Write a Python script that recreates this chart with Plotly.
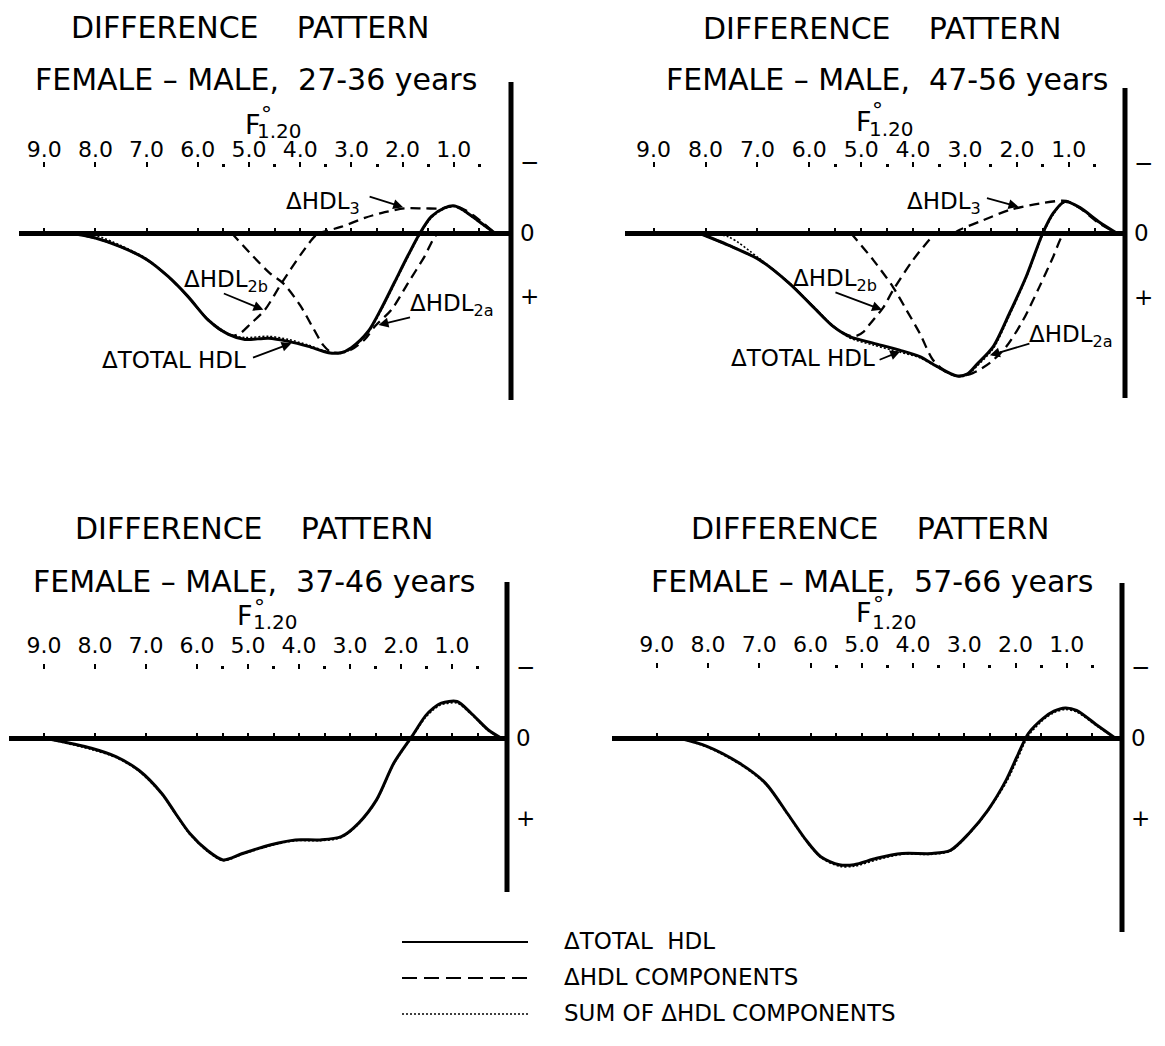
import plotly.graph_objects as go

# ------------------------------------------------------------------ data
# x = F°1.20 value, y = difference (axis drawn with "-" up, "+" down)
# 27-36 years
F_TOT_27 = [8.5, 8.0, 7.5, 7.0, 6.58, 6.19, 5.80, 5.40, 5.08, 4.62, 4.23, 3.84, 3.45, 3.2, 3.0,
            2.67, 2.41, 2.15, 1.89, 1.66, 1.44, 1.18, 0.98, 0.79, 0.6, 0.4, 0.2]
TOT_27 = [0, 0.08, 0.22, 0.42, 0.69, 1.01, 1.38, 1.61, 1.69, 1.67, 1.72, 1.80, 1.90, 1.90, 1.82,
          1.56, 1.19, 0.77, 0.35, 0.0, -0.26, -0.40, -0.43, -0.35, -0.24, -0.12, 0.0]
SUM_27 = [0, 0.04, 0.20, 0.41, 0.69, 1.01, 1.37, 1.60, 1.66, 1.64, 1.69, 1.78, 1.89, 1.91, 1.84,
          1.58, 1.21, 0.79, 0.37, 0.02, -0.24, -0.39, -0.42, -0.34, -0.23, -0.11, 0.0]
F_2B_27 = [8.5, 8.0, 7.5, 7.0, 6.58, 6.19, 5.80, 5.5, 5.3, 5.15, 4.98, 4.69, 4.36, 3.97, 3.71, 3.6]
HDL2B_27 = [0, 0.08, 0.22, 0.42, 0.69, 1.01, 1.38, 1.57, 1.63, 1.58, 1.45, 1.22, 0.79, 0.32, 0.05, 0.0]
F_2A_27 = [5.34, 4.92, 4.59, 4.33, 4.0, 3.74, 3.55, 3.4, 3.2, 3.0, 2.74, 2.54, 2.22, 1.89, 1.57, 1.34, 1.2]
HDL2A_27 = [0, 0.37, 0.64, 0.80, 1.15, 1.52, 1.78, 1.89, 1.90, 1.85, 1.69, 1.48, 1.22, 0.79, 0.37, 0.03, 0]
F_3_27 = [3.65, 3.19, 2.74, 2.35, 1.96, 1.57, 1.24, 1.0, 0.79, 0.6, 0.4, 0.2]
HDL3_27 = [0, -0.10, -0.24, -0.33, -0.39, -0.39, -0.39, -0.43, -0.37, -0.27, -0.14, 0]

# 47-56 years
F_TOT_47 = [8.13, 7.56, 6.96, 6.38, 5.93, 5.54, 5.22, 4.77, 4.26, 3.87, 3.55, 3.17, 2.95, 2.78,
            2.46, 2.14, 1.82, 1.50, 1.30, 1.08, 0.79, 0.43, 0.08]
TOT_47 = [0, 0.19, 0.42, 0.79, 1.15, 1.46, 1.62, 1.72, 1.83, 1.93, 2.08, 2.23, 2.20, 2.06,
          1.78, 1.25, 0.68, 0.0, -0.31, -0.49, -0.40, -0.18, 0]
SUM_47 = [0, 0.06, 0.40, 0.78, 1.14, 1.45, 1.64, 1.75, 1.86, 1.95, 2.09, 2.24, 2.22, 2.09,
          1.81, 1.28, 0.70, 0.02, -0.29, -0.48, -0.39, -0.17, 0]
F_2B_47 = [8.13, 7.56, 6.96, 6.38, 5.93, 5.54, 5.25, 5.1, 4.95, 4.84, 4.58, 4.39, 4.0, 3.58]
HDL2B_47 = [0, 0.19, 0.42, 0.79, 1.15, 1.46, 1.60, 1.61, 1.54, 1.43, 1.17, 0.90, 0.42, 0.0]
F_2A_47 = [5.2, 4.77, 4.39, 4.13, 3.87, 3.62, 3.35, 3.1, 2.85, 2.52, 2.20, 1.88, 1.56, 1.30, 1.11, 1.0]
HDL2A_47 = [0, 0.42, 0.84, 1.20, 1.57, 1.98, 2.18, 2.24, 2.19, 2.03, 1.77, 1.36, 0.83, 0.37, 0.03, 0]
F_3_47 = [3.2, 3.10, 2.65, 2.14, 1.56, 1.05, 0.79, 0.43, 0.08]
HDL3_47 = [0, -0.05, -0.20, -0.36, -0.46, -0.50, -0.39, -0.16, 0]

# 37-46 years
F_TOT_37 = [8.97, 8.07, 7.59, 7.14, 6.69, 6.42, 6.14, 5.80, 5.49, 5.11, 4.55, 4.07, 3.59, 3.17,
            2.83, 2.48, 2.14, 1.79, 1.52, 1.36, 1.21, 0.90, 0.62, 0.28, 0.03]
TOT_37 = [0, 0.125, 0.23, 0.40, 0.69, 0.94, 1.19, 1.40, 1.52, 1.44, 1.33, 1.27, 1.27, 1.23,
          1.06, 0.77, 0.31, -0.02, -0.28, -0.38, -0.44, -0.46, -0.31, -0.10, 0]
SUM_37 = [0, 0.14, 0.24, 0.41, 0.70, 0.95, 1.20, 1.41, 1.53, 1.45, 1.34, 1.28, 1.28, 1.24,
          1.07, 0.78, 0.32, -0.01, -0.26, -0.36, -0.42, -0.44, -0.30, -0.09, 0]

# 57-66 years
F_TOT_57 = [8.55, 8.02, 7.39, 6.88, 6.45, 6.09, 5.80, 5.44, 5.15, 4.71, 4.21, 3.63, 3.27, 2.91,
            2.54, 2.18, 1.97, 1.75, 1.46, 1.25, 1.03, 0.81, 0.38, 0.05]
TOT_57 = [0, 0.10, 0.31, 0.56, 0.94, 1.27, 1.48, 1.58, 1.58, 1.50, 1.44, 1.44, 1.40, 1.19,
          0.90, 0.52, 0.23, -0.06, -0.25, -0.34, -0.38, -0.35, -0.15, 0]
SUM_57 = [0, 0.11, 0.32, 0.57, 0.95, 1.28, 1.49, 1.60, 1.60, 1.52, 1.45, 1.45, 1.41, 1.20,
          0.91, 0.55, 0.27, -0.03, -0.23, -0.32, -0.36, -0.33, -0.14, 0]

AGE_GROUPS = ["27-36", "47-56", "37-46", "57-66"]
TOP_TICKS = [9, 8, 7, 6, 5, 4, 3, 2, 1]
TOP_LABELS = ["9.0", "8.0", "7.0", "6.0", "5.0", "4.0", "3.0", "2.0", "1.0"]
HALF_TICKS = [5.5, 4.5, 3.5, 2.5, 1.5, 0.5]
BASE_TICKS = [9, 8, 7, 6, 5.5, 5, 4.5, 4, 3.5, 3, 2.5, 2, 1.5, 1, 0.5]
Y_LABELS = ["\u2212", "0", "+"]

# ------------------------------------------------------------------ layout helpers
W, H = 1165, 1046
FONT = "DejaVu Sans"
BLACK = "black"

# pixel calibration of each panel (positions/styling only)
PANELS = [
    dict(age=AGE_GROUPS[0], f0=505, ppu=51.2, vline=511, left=19, base=233, ppv=63, top=82, bot=400,
         minus_px=162, lab_y=167, standoff=-4,
         title=(250, 28), sub=(256, 79), F=(253, 124), deg=(266, 114), f120=(279, 131)),
    dict(age=AGE_GROUPS[1], f0=1120.7, ppu=51.9, vline=1125, left=625, base=233, ppv=64, top=88, bot=398,
         minus_px=163, lab_y=167, standoff=-4,
         title=(882, 29), sub=(887, 80), F=(864, 122), deg=(877, 111), f120=(891, 129)),
    dict(age=AGE_GROUPS[2], f0=503, ppu=51.0, vline=507, left=9, base=738.3, ppv=80, top=582, bot=892,
         minus_px=667, lab_y=669, standoff=2,
         title=(254, 528), sub=(254, 581), F=(245, 615), deg=(259, 607), f120=(275, 622)),
    dict(age=AGE_GROUPS[3], f0=1118, ppu=51.25, vline=1122, left=612, base=738.3, ppv=80, top=583, bot=932,
         minus_px=667, lab_y=668, standoff=2,
         title=(870, 528), sub=(872, 581), F=(864, 612), deg=(878, 604), f120=(894, 622)),
]

SERIES = [
    dict(total=(F_TOT_27, TOT_27), sum=(F_TOT_27, SUM_27),
         comps=[(F_2B_27, HDL2B_27), (F_2A_27, HDL2A_27), (F_3_27, HDL3_27)]),
    dict(total=(F_TOT_47, TOT_47), sum=(F_TOT_47, SUM_47),
         comps=[(F_2B_47, HDL2B_47), (F_2A_47, HDL2A_47), (F_3_47, HDL3_47)]),
    dict(total=(F_TOT_37, TOT_37), sum=(F_TOT_37, SUM_37), comps=[]),
    dict(total=(F_TOT_57, TOT_57), sum=(F_TOT_57, SUM_57), comps=[]),
]

# curve labels: (text, text centre px, arrow head (F, y), arrow tail offset px)
CURVE_LABELS = {
    0: [("\u0394HDL<sub>3</sub>", (323, 203), (1.99, -0.41), (-35, -11)),
        ("\u0394HDL<sub>2b</sub>", (226, 281), (4.72, 1.22), (-41, -17)),
        ("\u0394HDL<sub>2a</sub>", (452, 305), (2.47, 1.46), (33, -8)),
        ("\u0394TOTAL HDL", (174, 360), (4.17, 1.75), (-40, 15))],
    1: [("\u0394HDL<sub>3</sub>", (944, 203), (1.97, -0.41), (-33, -9)),
        ("\u0394HDL<sub>2b</sub>", (835, 280), (4.6, 1.20), (-48, -18)),
        ("\u0394HDL<sub>2a</sub>", (1071, 336), (2.52, 1.91), (41, -12)),
        ("\u0394TOTAL HDL", (803, 358), (4.25, 1.85), (-22, 9))],
}


def px_x(px):
    return px / W


def px_y(py):
    return 1 - py / H


fig = go.Figure()
layout = dict(width=W, height=H, margin=dict(l=0, r=0, t=0, b=0, autoexpand=False),
              paper_bgcolor="white", plot_bgcolor="rgba(0,0,0,0)",
              showlegend=False, font=dict(family=FONT, color=BLACK))
annotations = []
shapes = []

for i, (p, s) in enumerate(zip(PANELS, SERIES), start=1):
    xa = "x" if i == 1 else f"x{i}"
    ya = "y" if i == 1 else f"y{i}"
    xl = f"x{i + 4}"
    xrange = [(p["f0"] - p["left"]) / p["ppu"], (p["f0"] - p["vline"]) / p["ppu"]]
    yrange = [(p["bot"] - p["base"]) / p["ppv"], (p["top"] - p["base"]) / p["ppv"]]
    xdom = [px_x(p["left"]), px_x(p["vline"])]
    ydom = [px_y(p["bot"]), px_y(p["top"])]
    minus_v = (p["minus_px"] - p["base"]) / p["ppv"]

    # components (dashed)
    for fx, fy in s["comps"]:
        fig.add_trace(go.Scatter(x=fx, y=fy, xaxis=xa, yaxis=ya, mode="lines",
                                 line=dict(color=BLACK, width=2.3, dash="10px,6px",
                                           shape="spline", smoothing=0.8),
                                 hoverinfo="skip"))
    # total (solid)
    fig.add_trace(go.Scatter(x=s["total"][0], y=s["total"][1], xaxis=xa, yaxis=ya, mode="lines",
                             line=dict(color=BLACK, width=3, shape="spline", smoothing=0.8),
                             hoverinfo="skip"))
    # sum of components (dotted)
    fig.add_trace(go.Scatter(x=s["sum"][0], y=s["sum"][1], xaxis=xa, yaxis=ya, mode="lines",
                             line=dict(color=BLACK, width=1.6, dash="2px,2px",
                                       shape="spline", smoothing=0.8),
                             hoverinfo="skip"))
    # empty trace so that the label axis is drawn
    fig.add_trace(go.Scatter(x=[None], y=[None], xaxis=xl, yaxis=ya, mode="lines",
                             hoverinfo="skip"))

    layout["xaxis" if i == 1 else f"xaxis{i}"] = dict(
        domain=xdom, range=xrange, autorange=False, anchor="free", position=px_y(p["base"]),
        side="top", showline=False, showgrid=False, zeroline=False,
        ticks="outside", ticklen=5, tickwidth=2, tickcolor=BLACK,
        tickmode="array", tickvals=BASE_TICKS, showticklabels=False, fixedrange=True)
    layout[f"xaxis{i + 4}"] = dict(
        domain=xdom, range=xrange, autorange=False, overlaying=xa, anchor="free",
        position=px_y(p["lab_y"]), side="top", showline=False, showgrid=False, zeroline=False,
        ticks="outside", ticklen=5, tickwidth=2, tickcolor=BLACK,
        tickmode="array", tickvals=TOP_TICKS, ticktext=TOP_LABELS,
        tickfont=dict(family=FONT, size=22, color=BLACK), ticklabelstandoff=p["standoff"],
        minor=dict(tickmode="array", tickvals=HALF_TICKS, ticks="outside", ticklen=3,
                   tickwidth=2.5, tickcolor=BLACK, showgrid=False),
        fixedrange=True)
    layout["yaxis" if i == 1 else f"yaxis{i}"] = dict(
        domain=ydom, range=yrange, autorange=False, anchor=xa, side="right",
        showline=False,
        zeroline=True, zerolinewidth=5, zerolinecolor=BLACK, showgrid=False,
        ticks="", tickmode="array", tickvals=[minus_v, 0, 1], ticktext=Y_LABELS,
        tickfont=dict(family=FONT, size=23, color=BLACK), ticklabelstandoff=8,
        fixedrange=True)
    # thick vertical axis
    shapes.append(dict(type="line", xref="paper", yref="paper",
                       x0=px_x(p["vline"]), x1=px_x(p["vline"]),
                       y0=px_y(p["top"]), y1=px_y(p["bot"]),
                       line=dict(color=BLACK, width=5)))

    # titles
    annotations.append(dict(text="DIFFERENCE\u00a0\u00a0\u00a0\u00a0PATTERN", xref="paper", yref="paper",
                            x=px_x(p["title"][0]), y=px_y(p["title"][1]), showarrow=False,
                            xanchor="center", yanchor="middle",
                            font=dict(family=FONT, size=30, color=BLACK)))
    annotations.append(dict(text=f"FEMALE\u00a0\u2013\u00a0MALE,\u00a0\u00a0{p['age']} years",
                            xref="paper", yref="paper",
                            x=px_x(p["sub"][0]), y=px_y(p["sub"][1]), showarrow=False,
                            xanchor="center", yanchor="middle",
                            font=dict(family=FONT, size=30, color=BLACK)))
    # axis title F°1.20
    annotations.append(dict(text="F", xref="paper", yref="paper",
                            x=px_x(p["F"][0]), y=px_y(p["F"][1]), showarrow=False,
                            xanchor="center", yanchor="middle",
                            font=dict(family=FONT, size=27, color=BLACK)))
    annotations.append(dict(text="\u00b0", xref="paper", yref="paper",
                            x=px_x(p["deg"][0]), y=px_y(p["deg"][1]), showarrow=False,
                            xanchor="center", yanchor="middle",
                            font=dict(family=FONT, size=22, color=BLACK)))
    annotations.append(dict(text="1.20", xref="paper", yref="paper",
                            x=px_x(p["f120"][0]), y=px_y(p["f120"][1]), showarrow=False,
                            xanchor="center", yanchor="middle",
                            font=dict(family=FONT, size=20, color=BLACK)))

    # curve labels with arrows
    for text, (tx, ty), (hx, hy), (ax, ay) in CURVE_LABELS.get(i - 1, []):
        annotations.append(dict(text=text, xref="paper", yref="paper", x=px_x(tx), y=px_y(ty),
                                showarrow=False, xanchor="center", yanchor="middle",
                                font=dict(family=FONT, size=23, color=BLACK)))
        annotations.append(dict(text="", xref=xa, yref=ya, x=hx, y=hy, ax=ax, ay=ay,
                                showarrow=True, arrowhead=2, arrowsize=1.1, arrowwidth=1.8,
                                arrowcolor=BLACK, standoff=0, startstandoff=0))

# legend (drawn as samples + text)
LEGEND = [("\u0394TOTAL\u00a0\u00a0HDL", "solid", 942),
          ("\u0394HDL COMPONENTS", "15px,7px", 978),
          ("SUM OF \u0394HDL COMPONENTS", "2px,2px", 1014)]
for text, dash, ypx in LEGEND:
    shapes.append(dict(type="line", xref="paper", yref="paper", x0=px_x(402), x1=px_x(528),
                       y0=px_y(ypx), y1=px_y(ypx),
                       line=dict(color=BLACK, width=2 if dash != "2px,2px" else 1.5, dash=dash)))
    annotations.append(dict(text=text, xref="paper", yref="paper", x=px_x(562), y=px_y(ypx - 1),
                            showarrow=False, xanchor="left", yanchor="middle",
                            font=dict(family=FONT, size=23, color=BLACK)))

layout["annotations"] = annotations
layout["shapes"] = shapes
fig.update_layout(**layout)
fig.write_html("out.html", config={"displayModeBar": False},
               post_script="document.body.style.margin='0px';document.body.style.padding='0px';")
